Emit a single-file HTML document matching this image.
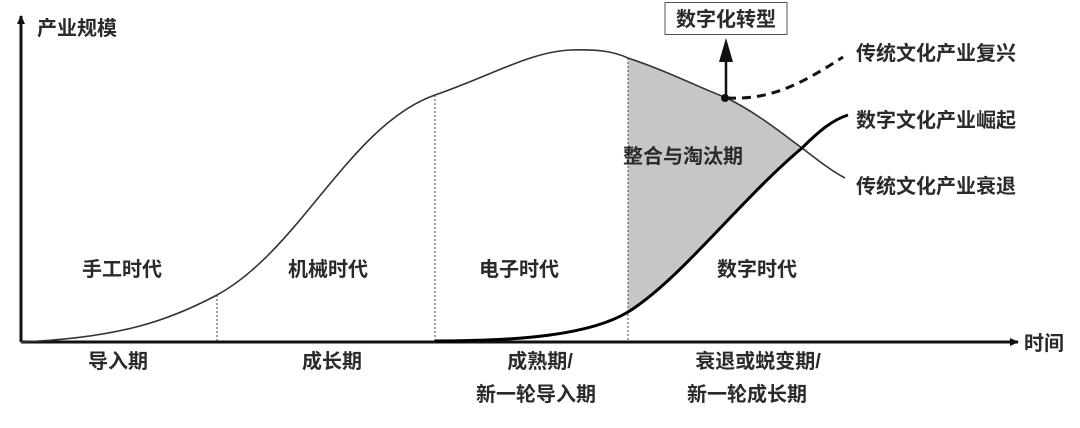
<!DOCTYPE html>
<html><head><meta charset="utf-8"><style>
html,body{margin:0;padding:0;background:#fff;}
svg{display:block}
text{font-family:"Liberation Sans","Noto Sans CJK SC",sans-serif;font-size:20px;font-weight:bold;fill:#2a2a2a;}
</style></head><body>
<svg width="1080" height="428" viewBox="0 0 1080 428" xmlns="http://www.w3.org/2000/svg">
<defs>
<marker id="ah" markerWidth="10" markerHeight="10" refX="8" refY="5" orient="auto" markerUnits="userSpaceOnUse">
<path d="M0,1 L9,5 L0,9 Z" fill="#111"/></marker>
</defs>
<path d="M628,58 C670,72 700,88 727,98 C760,115 780,132 802,148 C740,200 680,280 628,312 Z" fill="#c6c6c6"/>
<g stroke="#444" stroke-width="1" stroke-dasharray="2,2">
<line x1="217" y1="295" x2="217" y2="342"/>
<line x1="435" y1="95" x2="435" y2="342"/>
<line x1="628" y1="58" x2="628" y2="342"/>
</g>
<line x1="21" y1="342" x2="21" y2="16" stroke="#111" stroke-width="3" marker-end="url(#ah)"/>
<line x1="21" y1="342" x2="1018" y2="342" stroke="#111" stroke-width="3" marker-end="url(#ah)"/>
<path d="M21,342 C120,338 170,320 217,295 C300,250 350,125 435,95 C490,76 530,52 570,50 C600,49 615,52 628,58 C670,72 700,88 727,98 C760,115 780,132 802,148 C815,158 830,170 845,178" fill="none" stroke="#333" stroke-width="1.6"/>
<path d="M435,341 C520,341 590,335 628,312 C680,280 740,200 802,148 C818,132 832,120 848,115" fill="none" stroke="#000" stroke-width="3"/>
<path d="M727,98 C770,100 800,85 843,57" fill="none" stroke="#111" stroke-width="3" stroke-dasharray="9,6"/>
<circle cx="725" cy="98" r="4" fill="#111"/>
<line x1="726" y1="97" x2="726" y2="55" stroke="#111" stroke-width="2.5"/>
<path d="M719,62 L726,38 L733,62 Z" fill="#111"/>
<rect x="665" y="2.5" width="122" height="32" fill="#fff" stroke="#555" stroke-width="1"/>
<text x="726" y="26" text-anchor="middle">数字化转型</text>
<text x="37" y="35">产业规模</text>
<text x="1024" y="350">时间</text>
<text x="856" y="60">传统文化产业复兴</text>
<text x="856" y="127">数字文化产业崛起</text>
<text x="856" y="193">传统文化产业衰退</text>
<text x="683" y="163" text-anchor="middle">整合与淘汰期</text>
<text x="122" y="276" text-anchor="middle">手工时代</text>
<text x="328" y="276" text-anchor="middle">机械时代</text>
<text x="519" y="276" text-anchor="middle">电子时代</text>
<text x="757" y="276" text-anchor="middle">数字时代</text>
<text x="118" y="368" text-anchor="middle">导入期</text>
<text x="332" y="368" text-anchor="middle">成长期</text>
<text x="540" y="368" text-anchor="middle">成熟期/</text>
<text x="536" y="401" text-anchor="middle">新一轮导入期</text>
<text x="758" y="368" text-anchor="middle">衰退或蜕变期/</text>
<text x="747" y="401" text-anchor="middle">新一轮成长期</text>
</svg>
</body></html>
